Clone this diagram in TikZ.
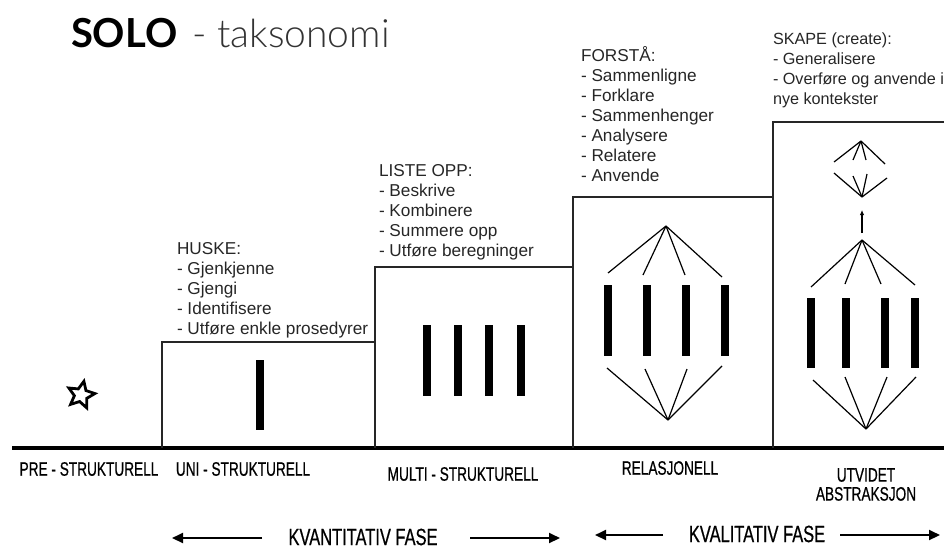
\documentclass[tikz,border=0pt]{standalone}
\usepackage{fontspec}
\setmainfont{Liberation Sans}
\newfontfamily\titlefont{Lato}
\IfFontExistsTF{Lato Light}{\newfontfamily\thinfont{Lato Light}}{\newfontfamily\thinfont{Lato}}
\newfontfamily\narrowfont[FakeStretch=0.7,FakeBold=0.6]{Liberation Sans}
\usetikzlibrary{positioning,shapes.geometric,arrows.meta}

\begin{document}
\begin{tikzpicture}[x=1pt,y=-1pt]
\tikzset{ >=latex, inner sep=0pt, outer sep=0pt,
  box/.style={draw=black!85, line width=1.3pt},
  bar/.style={fill=black, minimum width=8.5pt, minimum height=71pt},
  fan/.style={line width=1.2pt},
  list/.style={anchor=north west, align=left, text=black!85, font=\fontsize{17.2}{20}\selectfont},
  level/.style={font=\narrowfont\fontsize{19.5}{19}\selectfont, align=center},
  phase/.style={font=\narrowfont\fontsize{23.5}{24}\selectfont},
  phasearrow/.style={line width=2pt, -{Triangle[length=11pt,width=10pt]}},
}
\useasboundingbox (0,0) rectangle (944,550);
%\draw [lightgray, dashed](0,0) grid[step=50] (944,550);

\node [anchor=base west, font=\titlefont\bfseries\fontsize{40}{41}\selectfont] (solo) at (71,47) {SOLO};
\node [anchor=base west, text=black!80, font=\thinfont\fontsize{39}{40}\selectfont] (takso) at ([xshift=15pt]solo.base east) {- taksonomi};

\coordinate (B0) at (12,448);
\coordinate (B1) at (944,448);
\draw [line width=4.5pt] (B0) -- (B1);

\draw [box] (162,448) |- (375,342) -- (375,448);
\draw [box] (375,448) |- (573,267) -- (573,448);
\draw [box] (573,448) |- (773,197) -- (773,448);
\draw [box] (773,448) |- (946,122);

\node [star, star points=5, star point ratio=2.1, draw, line width=2.8pt, minimum size=28pt, rotate=-12] (pre) at (81,395) {};

\node [bar, minimum height=70pt] (u1) at (260,395) {};
\foreach \x [count=\i] in {427,458,489,521}
  \node [bar] (m\i) at (\x,360.5) {};
\foreach \x [count=\i] in {608,647,686,725}
  \node [bar] (r\i) at (\x,320.5) {};
\foreach \x [count=\i] in {811,846,885,915}
  \node [bar, minimum height=70pt] (e\i) at (\x,333) {};

\coordinate (RT) at (666,226);
\coordinate (RB) at (668,420);
\foreach \x/\y [count=\i] in {608/273,643/275,685/275,722/277}{
  \coordinate (rt\i) at (\x,\y);
  \draw [fan] (RT) -- (rt\i);
}
\foreach \x/\y [count=\i] in {607/368,645/369,687/369,722/366}{
  \coordinate (rb\i) at (\x,\y);
  \draw [fan] (rb\i) -- (RB);
}

\coordinate (ET) at (862,240);
\coordinate (EB) at (866,429);
\foreach \x/\y [count=\i] in {811/287,845/284,881/284,915/285}{
  \coordinate (et\i) at (\x,\y);
  \draw [fan] (ET) -- (et\i);
}
\foreach \x/\y [count=\i] in {813/380,845/377,887/377,916/377}{
  \coordinate (eb\i) at (\x,\y);
  \draw [fan] (eb\i) -- (EB);
}

\coordinate (ST) at (861,141);
\coordinate (SB) at (862,197);
\foreach \x/\y [count=\i] in {834/162,853/160,866/160,885/164}{
  \coordinate (st\i) at (\x,\y);
  \draw [fan] (ST) -- (st\i);
}
\foreach \x/\y [count=\i] in {834/173,853/176,867/174,887/178}{
  \coordinate (sb\i) at (\x,\y);
  \draw [fan] (sb\i) -- (SB);
}

\coordinate (A0) at (862,233);
\coordinate (A1) at (862,210);
\draw [fan, -{Latex[length=5pt,width=4.5pt]}] (A0) -- (A1);

\node [list] (huske) at (177,242) {HUSKE:\\- Gjenkjenne\\- Gjengi\\- Identifisere\\- Utføre enkle prosedyrer};
\node [list] (liste) at (379,164) {LISTE OPP:\\- Beskrive\\- Kombinere\\- Summere opp\\- Utføre beregninger};
\node [list] (forsta) at (581,46) {FORSTÅ:\\- Sammenligne\\- Forklare\\- Sammenhenger\\- Analysere\\- Relatere\\- Anvende};
\node [list, font=\fontsize{16.2}{20}\selectfont] (skape) at (773,33) {SKAPE (create):\\- Generalisere\\- Overføre og anvende i\\nye kontekster};

\node [level] (L1) at (89,469) {PRE - STRUKTURELL};
\node [level] (L2) at (243,469) {UNI - STRUKTURELL};
\node [level] (L3) at (463,474) {MULTI - STRUKTURELL};
\node [level] (L4) at (670,468) {RELASJONELL};
\node [level] (L5) at (866,484.5) {UTVIDET\\ABSTRAKSJON};

\node [phase] (kvant) at (363,537) {KVANTITATIV FASE};
\node [phase] (kval) at (757,534) {KVALITATIV FASE};

\coordinate (qa) at (172,538);
\coordinate (qb) at (262,538);
\coordinate (qc) at (470,538);
\coordinate (qd) at (560,538);
\coordinate (la) at (595,535);
\coordinate (lb) at (663,535);
\coordinate (lc) at (840,535);
\coordinate (ld) at (940,535);
\draw [phasearrow] (qb) -- (qa);
\draw [phasearrow] (qc) -- (qd);
\draw [phasearrow] (lb) -- (la);
\draw [phasearrow] (lc) -- (ld);

\end{tikzpicture}
\end{document}
